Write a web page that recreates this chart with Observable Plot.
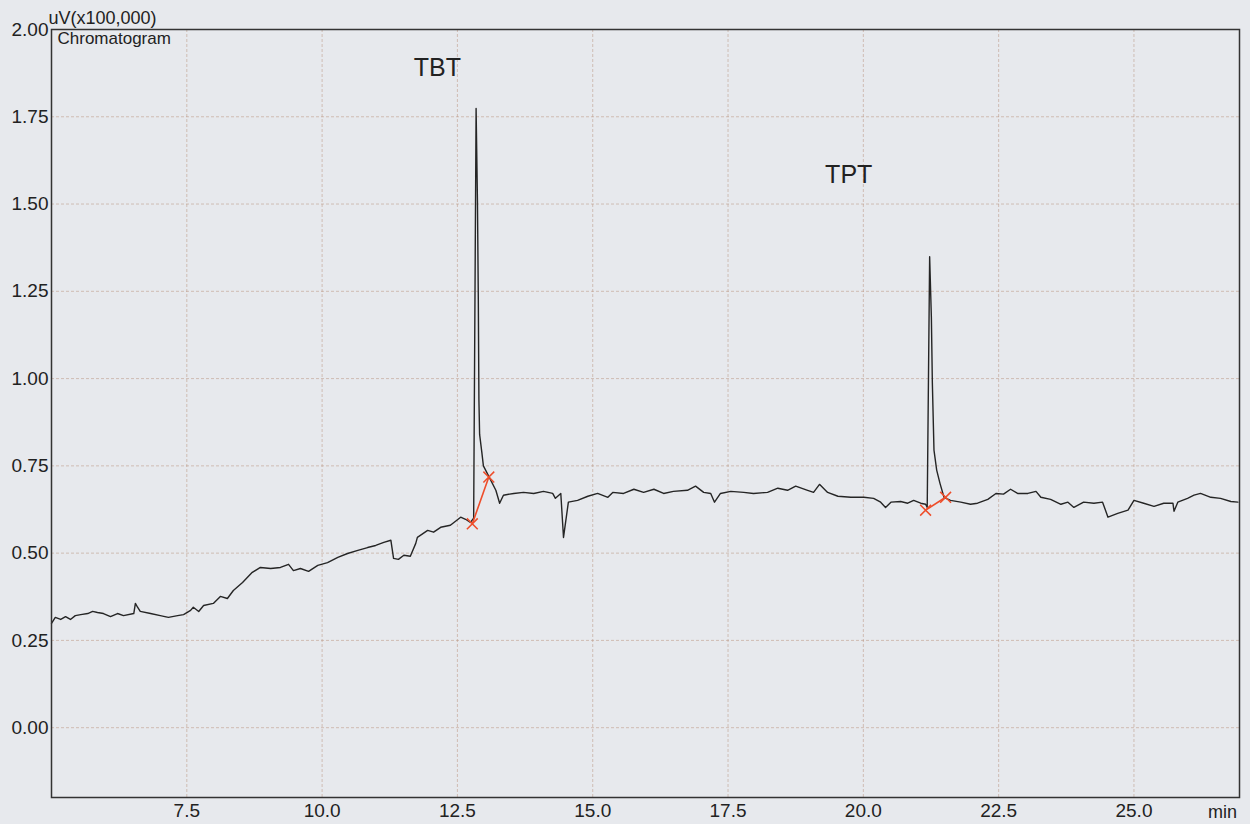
<!DOCTYPE html>
<html><head><meta charset="utf-8">
<script src="https://cdn.jsdelivr.net/npm/d3@7"></script>
<script src="https://cdn.jsdelivr.net/npm/@observablehq/plot@0.6"></script>
<style>
html,body{margin:0;padding:0;background:#e7e9ed;}
#chart{width:1250px;height:824px;}
</style></head><body><div id="chart"></div>
<script>
// Retention time (min)
const time = [
  5.00,5.07,5.17,5.26,5.35,5.44,5.54,5.67,5.76,5.85,5.96,6.09,6.22,6.33,6.52,6.55,6.59,6.64,6.83,7.01,
  7.16,7.33,7.44,7.57,7.62,7.72,7.81,7.99,8.12,8.25,8.36,8.53,8.71,8.86,9.05,9.23,9.38,9.47,9.60,9.75,
  9.92,10.10,10.29,10.47,10.66,10.84,10.99,11.14,11.27,11.32,11.41,11.51,11.63,11.73,11.76,11.95,12.06,12.19,12.37,12.56,
  12.65,12.74,12.80,12.845,12.87,12.886,12.897,12.91,12.95,12.98,13.08,13.21,13.28,13.35,13.54,13.72,13.91,14.09,14.26,14.31,
  14.41,14.46,14.55,14.72,14.91,15.09,15.28,15.37,15.57,15.76,15.94,16.13,16.31,16.49,16.75,16.90,17.05,17.18,17.25,17.36,
  17.55,17.79,17.97,18.23,18.42,18.60,18.75,18.97,19.08,19.19,19.34,19.53,19.77,20.01,20.19,20.32,20.41,20.51,20.69,20.82,
  20.93,21.06,21.15,21.18,21.225,21.257,21.275,21.305,21.355,21.416,21.49,21.61,21.80,21.98,22.11,22.30,22.45,22.59,22.72,22.85,
  23.04,23.19,23.28,23.46,23.65,23.78,23.89,24.07,24.26,24.42,24.52,24.70,24.89,25.00,25.18,25.37,25.55,25.72,25.74,25.81,
  25.99,26.11,26.23,26.42,26.60,26.79,26.92
];
// Detector signal, uV (x100,000)
const signal = [
  0.299,0.316,0.310,0.318,0.310,0.321,0.324,0.327,0.333,0.330,0.327,0.318,0.327,0.321,0.327,0.356,0.345,0.333,0.327,0.321,
  0.316,0.321,0.324,0.336,0.345,0.333,0.350,0.356,0.376,0.370,0.393,0.416,0.445,0.459,0.456,0.459,0.468,0.450,0.456,0.448,
  0.465,0.473,0.488,0.499,0.508,0.516,0.522,0.531,0.537,0.485,0.482,0.494,0.491,0.528,0.545,0.565,0.560,0.574,0.580,0.603,
  0.597,0.588,0.600,1.774,1.510,1.227,0.940,0.840,0.790,0.750,0.720,0.680,0.643,0.666,0.671,0.674,0.671,0.677,0.671,0.657,
  0.671,0.545,0.646,0.651,0.663,0.671,0.660,0.674,0.671,0.683,0.674,0.683,0.671,0.677,0.680,0.692,0.674,0.671,0.646,0.671,
  0.677,0.674,0.671,0.674,0.686,0.680,0.692,0.680,0.674,0.697,0.674,0.663,0.660,0.660,0.657,0.646,0.631,0.646,0.648,0.643,
  0.651,0.643,0.640,0.631,1.349,1.176,0.988,0.795,0.738,0.700,0.660,0.651,0.646,0.640,0.643,0.654,0.671,0.669,0.683,0.671,
  0.671,0.677,0.660,0.654,0.640,0.646,0.631,0.646,0.643,0.646,0.603,0.614,0.623,0.651,0.643,0.634,0.643,0.643,0.620,0.646,
  0.657,0.666,0.671,0.660,0.657,0.648,0.646
];
const xTicks = [7.5, 10.0, 12.5, 15.0, 17.5, 20.0, 22.5, 25.0];
const yTicks = [0.00, 0.25, 0.50, 0.75, 1.00, 1.25, 1.50, 1.75, 2.00];

const peakNames = ["TBT", "TPT"];
const peakLabelTime = [12.13, 19.73];
const peakLabelValue = [1.891, 1.584];
const baselineStartTime = [12.775, 21.15];
const baselineStartValue = [0.584, 0.623];
const baselineEndTime = [13.08, 21.52];
const baselineEndValue = [0.718, 0.660];

const trace = time.map((t, i) => ({t, v: signal[i]}));
const labels = peakNames.map((name, i) => ({name, t: peakLabelTime[i], v: peakLabelValue[i]}));
const baselines = peakNames.map((name, i) => ({
  x1: baselineStartTime[i], y1: baselineStartValue[i],
  x2: baselineEndTime[i], y2: baselineEndValue[i]
}));
const markers = baselines.flatMap(b => [{t: b.x1, v: b.y1}, {t: b.x2, v: b.y2}]);

const gridStyle = {stroke: "#b9917c", strokeOpacity: 0.5, strokeDasharray: "3,2", strokeWidth: 1};

const chart = Plot.plot({
  width: 1250,
  height: 824,
  marginLeft: 51,
  marginRight: 11,
  marginTop: 29,
  marginBottom: 27,
  style: {
    background: "#e7e9ed",
    fontFamily: "'Liberation Sans', Arial, sans-serif",
    fontSize: "19px",
    color: "#222"
  },
  x: {domain: [5, 26.95], ticks: xTicks, tickFormat: d => d.toFixed(1), tickSize: 0, tickPadding: 6, label: null},
  y: {domain: [-0.2, 2.0], ticks: yTicks, tickFormat: d => d.toFixed(2), tickSize: 0, tickPadding: 3, label: null},
  marks: [
    Plot.gridX(xTicks, gridStyle),
    Plot.gridY(yTicks, gridStyle),
    Plot.line(trace, {x: "t", y: "v", stroke: "#252525", strokeWidth: 1.4}),
    Plot.link(baselines, {x1: "x1", y1: "y1", x2: "x2", y2: "y2", stroke: "#ee4d2a", strokeWidth: 1.6}),
    Plot.dot(markers, {x: "t", y: "v", symbol: "times", r: 5, stroke: "#ee4d2a", strokeWidth: 1.5}),
    Plot.text(labels, {x: "t", y: "v", text: "name", fontSize: 25, fill: "#222"}),
    Plot.frame({stroke: "#333", strokeWidth: 1.5}),
    Plot.text(["uV(x100,000)"], {frameAnchor: "top-left", textAnchor: "start", dx: -3, dy: -18, fontSize: 18, fill: "#222"}),
    Plot.text(["Chromatogram"], {frameAnchor: "top-left", textAnchor: "start", dx: 6, dy: 2, fontSize: 17, fill: "#222"}),
    Plot.text(["min"], {frameAnchor: "bottom-right", textAnchor: "middle", dx: -17, dy: 20, fontSize: 18, fill: "#222"})
  ]
});
document.getElementById("chart").appendChild(chart);
</script>
</body></html>
